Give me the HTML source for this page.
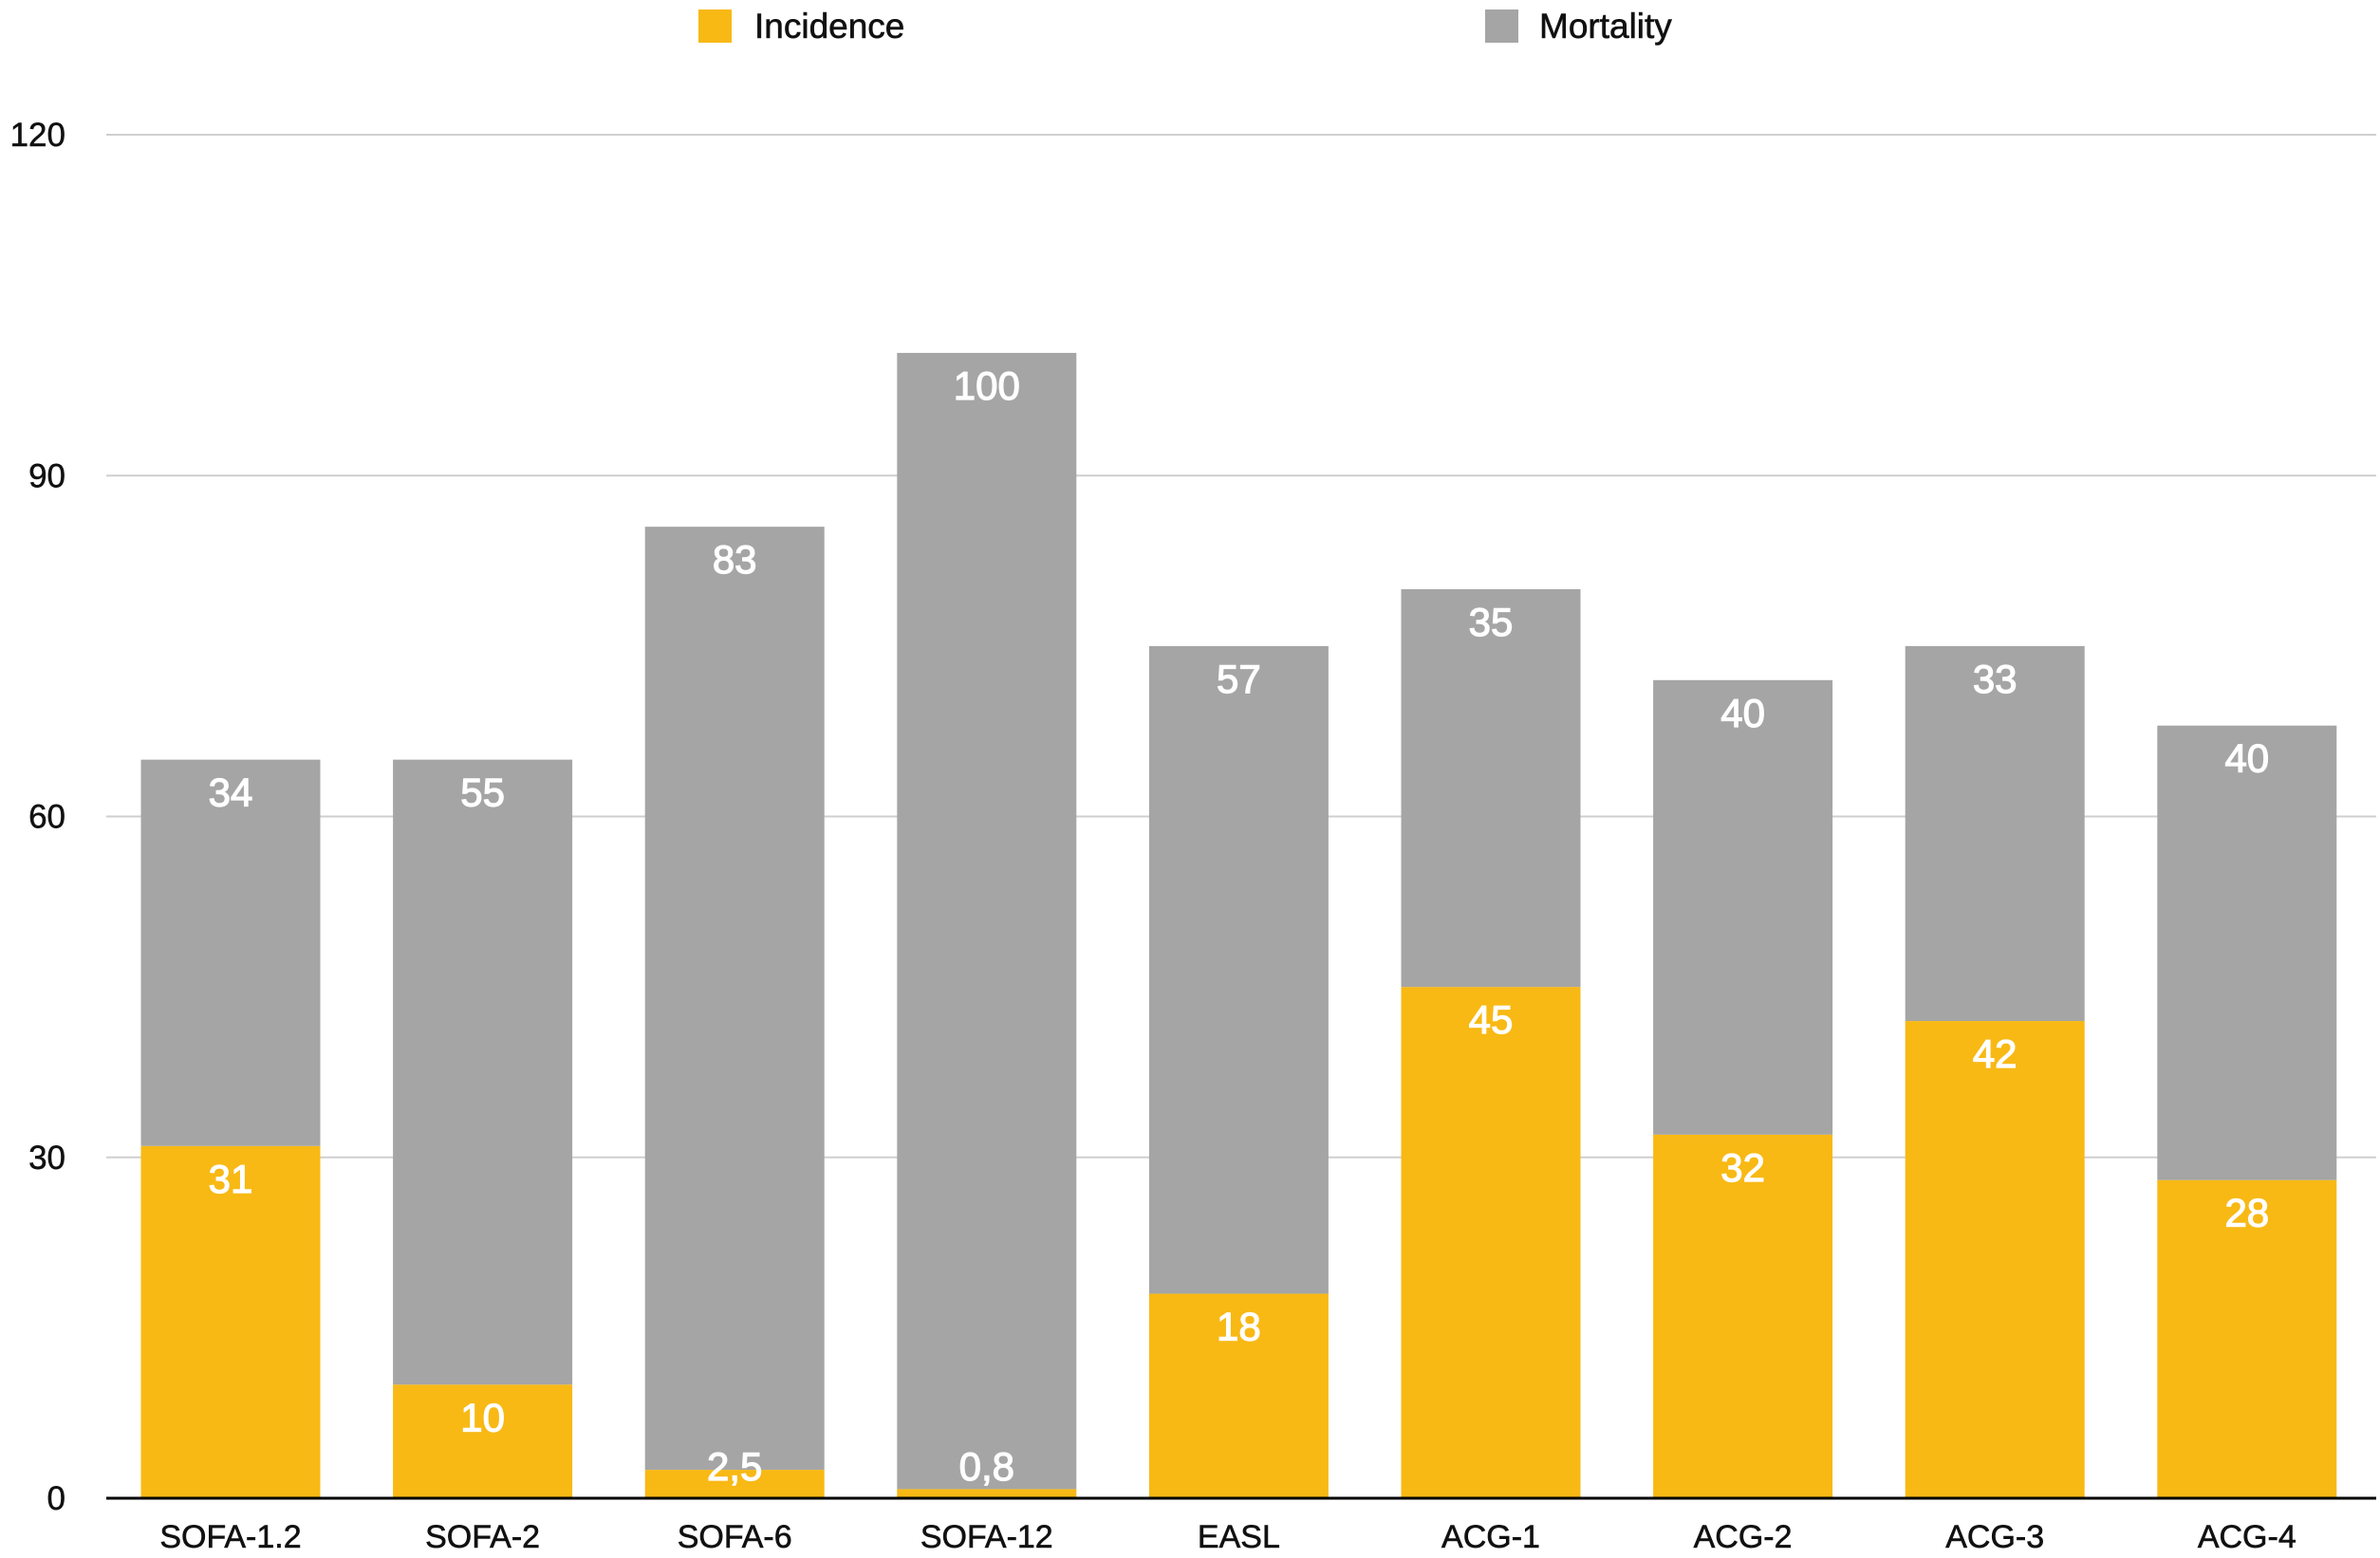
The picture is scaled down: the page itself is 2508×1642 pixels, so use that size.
<!DOCTYPE html>
<html><head><meta charset="utf-8"><style>
html,body{margin:0;padding:0;background:#fff;}
svg{display:block;font-family:"Liberation Sans",Arial,sans-serif;}
</style></head><body>
<svg id="chart" width="2508" height="1642" viewBox="0 0 2508 1642" xmlns="http://www.w3.org/2000/svg">
<g>
<rect x="736" y="10" width="35" height="35" fill="#F8B915"/>
<text x="795" y="40" font-size="37" fill="#111" stroke="#111" stroke-width="0.6">Incidence</text>
<rect x="1565" y="10" width="35" height="35" fill="#A5A5A5"/>
<text x="1622" y="40" font-size="37" fill="#111" stroke="#111" stroke-width="0.6">Mortality</text>
</g>
<g id="grid"></g><g id="bars"></g><g id="labels"></g>
</svg>
<script>
const categories=["SOFA-1.2","SOFA-2","SOFA-6","SOFA-12","EASL","ACG-1","ACG-2","ACG-3","ACG-4"];
const incidence=[31,10,2.5,0.8,18,45,32,42,28];
const mortality=[34,55,83,100,57,35,40,33,40];
const incidenceLabels=["31","10","2,5","0,8","18","45","32","42","28"];
const mortalityLabels=["34","55","83","100","57","35","40","33","40"];
const yTicks=[0,30,60,90,120];
const NS="http://www.w3.org/2000/svg";
const x0=112,x1=2504,y0=1579,yTop=142,yMax=120;
const firstCenter=243, spacing=265.6, bw=189;
function y(v){return y0-(v/yMax)*(y0-yTop);}
function xc(i){return firstCenter+i*spacing;}
function mk(tag,attrs,parent,txt){const e=document.createElementNS(NS,tag);for(const k in attrs)e.setAttribute(k,attrs[k]);if(txt!==undefined)e.textContent=txt;parent.appendChild(e);return e;}
const grid=document.getElementById('grid'),bars=document.getElementById('bars'),labels=document.getElementById('labels');
yTicks.forEach(t=>{
  if(t>0){const l=mk('line',{x1:x0,x2:x1,y1:y(t),y2:y(t),stroke:'#cfcfcf','stroke-width':2},grid);
  
  }
  const tx=mk('text',{x:69,y:y(t)+12,'text-anchor':'end','font-size':35,fill:'#111',stroke:'#111','stroke-width':0.5},grid,String(t));
  
  
});
categories.forEach((c,i)=>{
  const cx=xc(i);
  const yi=y(incidence[i]), ym=y(incidence[i]+mortality[i]);
  const r1=mk('rect',{x:cx-bw/2,y:yi,width:bw,height:y0-yi,fill:'#F8B915'},bars);
  
  
  const r2=mk('rect',{x:cx-bw/2,y:ym,width:bw,height:yi-ym,fill:'#A5A5A5'},bars);
  
  
  const ci=Math.min(yi+34,y0-34);
  const t1=mk('text',{x:cx,y:ci+15,'text-anchor':'middle','font-size':42,fill:'#fff',stroke:'#fff','stroke-width':1.2},labels,incidenceLabels[i]);
  
  
  const t2=mk('text',{x:cx,y:ym+34+15,'text-anchor':'middle','font-size':42,fill:'#fff',stroke:'#fff','stroke-width':1.2},labels,mortalityLabels[i]);
  
  
  const cl=mk('text',{x:cx,y:1631,'text-anchor':'middle','font-size':34,fill:'#111',stroke:'#111','stroke-width':0.6},labels,c);
  
  
});
const ax=mk('line',{x1:x0,x2:x1,y1:y0,y2:y0,stroke:'#000','stroke-width':3},labels);


</script>
</body></html>
